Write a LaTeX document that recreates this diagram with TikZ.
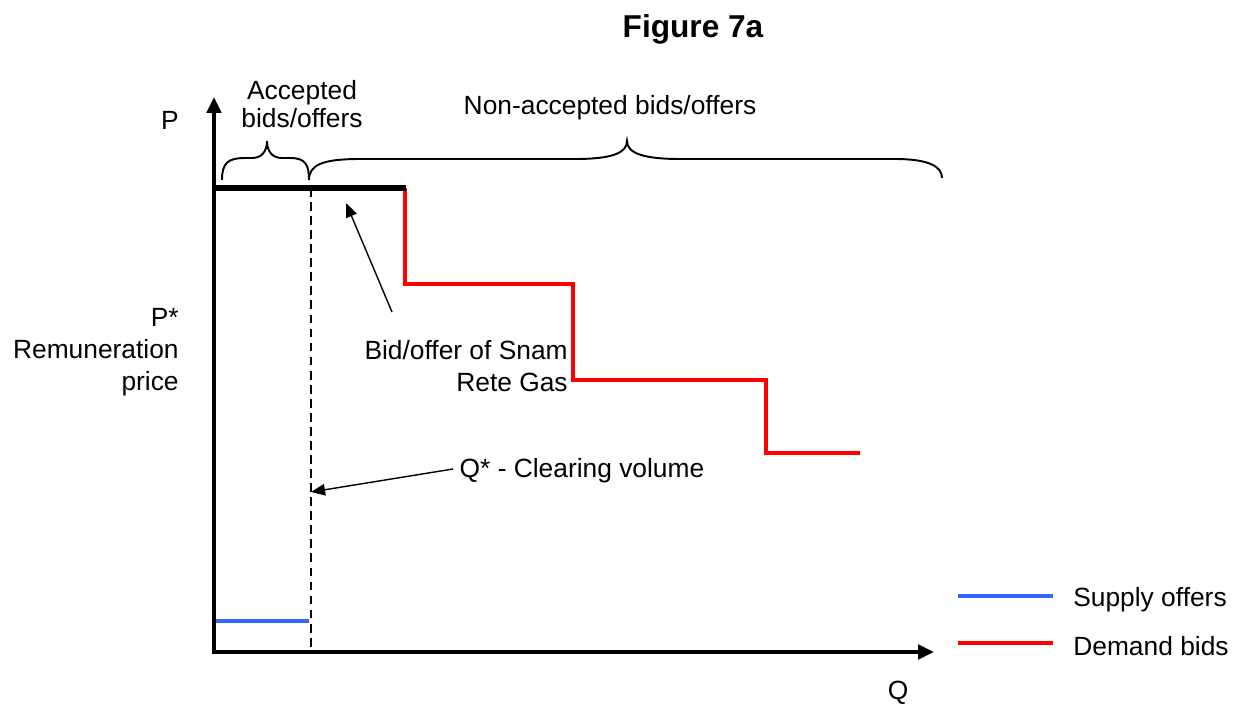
\documentclass[tikz,border=0pt]{standalone}
\usepackage{fontspec}
\setmainfont{Liberation Sans}
\usetikzlibrary{arrows.meta}
\begin{document}
\begin{tikzpicture}[x=0.02cm, y=-0.02cm,
  lbl/.style={inner sep=0pt, font=\fontsize{15}{18}\selectfont},
  axis/.style={line width=2.8pt, -{Triangle[length=9pt, width=8pt]}},
  pointer/.style={line width=0.8pt, -{Triangle[length=8pt, width=6.5pt]}},
  brace/.style={line width=1.1pt},
  demand/.style={line width=2pt, red},
  supply/.style={line width=2.2pt, color={rgb,255:red,51;green,102;blue,255}},
  clearing/.style={line width=0.8pt, dash pattern=on 5pt off 3pt}]
\useasboundingbox (0,0) rectangle (1242,707);

% reference points
\coordinate (O) at (214,652);
\coordinate (ytop) at (214,97);
\coordinate (xend) at (934,652);
\coordinate (qstar) at (311,652);
\coordinate (qtop) at (311,188);
\coordinate (qhit) at (311,492);
\coordinate (snam) at (346,203);

% title
\node[lbl, font=\fontsize{18}{22}\selectfont\bfseries] (title) at (693,29) {Figure 7a};

% clearing volume (dashed)
\draw[clearing] (qtop) -- (qstar);

% supply offer
\draw[supply] (214,621) -- (309,621);

% demand bids
\draw[demand] (405,188) -- (405,284) -- (573,284) -- (573,380) -- (766,380) -- (766,453) -- (860,453);

% bid/offer of Snam Rete Gas
\draw[line width=3.3pt] (214,188) -- (406,188);

% axes
\draw[axis] (214,654) -- (ytop);
\draw[axis] (212,652) -- (xend);

% axis labels
\node[lbl] (plabel) at (170,120) {P};
\node[lbl] (qlabel) at (898,693) {Q};
\node[lbl, anchor=east, align=right, font=\fontsize{15}{18.3}\selectfont] (pstar) at (179,352) {P*\\Remuneration\\price};

% braces
\draw[brace] (222,180) .. controls (222,163) and (228,158) .. (245,158) -- (252,158)
  .. controls (262,158) and (267,151) .. (267,141)
  .. controls (267,151) and (272,158) .. (282,158) -- (290,158)
  .. controls (305,158) and (309,164) .. (309,180);
\draw[brace] (309,180) .. controls (309,165) and (322,159) .. (360,159) -- (575,159)
  .. controls (612,159) and (627,153) .. (627,141)
  .. controls (627,153) and (643,159) .. (680,159) -- (895,159)
  .. controls (930,159) and (942,167) .. (942,178);
\node[lbl, align=center, font=\fontsize{15}{16}\selectfont] (accepted) at (302,104) {Accepted\\bids/offers};
\node[lbl] (nonaccepted) at (610,108) {Non-accepted bids/offers};

% annotations
\node[lbl, anchor=east, align=right, font=\fontsize{15}{18.5}\selectfont] (snamlabel) at (568,366) {Bid/offer of Snam\\Rete Gas};
\draw[pointer] (392,312) -- (snam);
\node[lbl] (qstarlabel) at (582,471) {Q* - Clearing volume};
\draw[pointer] (453,469) -- (qhit);

% legend
\draw[supply] (958,596) -- (1053,596);
\node[lbl, anchor=west] (legsupply) at (1073,600) {Supply offers};
\draw[demand] (958,643) -- (1053,643);
\node[lbl, anchor=west] (legdemand) at (1073,646) {Demand bids};
\end{tikzpicture}
\end{document}
